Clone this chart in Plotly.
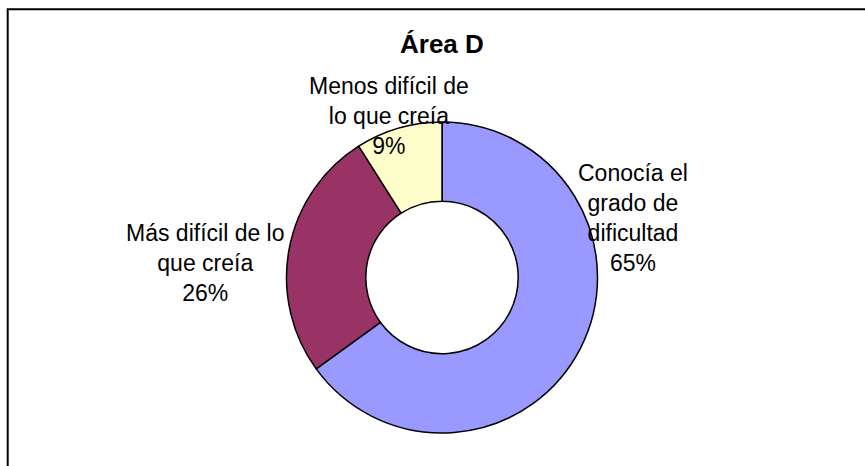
import plotly.graph_objects as go

W, H = 865, 466

title_text = "Área D"
categories = ["Conocía el grado de dificultad", "Más difícil de lo que creía", "Menos difícil de lo que creía"]
label_lines = [["Conocía el", "grado de", "dificultad"], ["Más difícil de lo", "que creía"], ["Menos difícil de", "lo que creía"]]
values = [65, 26, 9]
colors = ["#9999FF", "#993366", "#FFFFCC"]

# label anchor positions in pixels (layout only)
label_pos = [(633, 218), (205, 263), (389, 116)]

cx, cy, r = 442, 277.5, 155.5

fig = go.Figure(go.Pie(
    labels=categories,
    values=values,
    sort=False,
    direction="clockwise",
    rotation=0,
    hole=0.49,
    marker=dict(colors=colors, line=dict(color="black", width=1.5)),
    textinfo="none",
    hoverinfo="label+percent",
    showlegend=False,
    domain=dict(x=[(cx - r) / W, (cx + r) / W], y=[1 - (cy + r) / H, 1 - (cy - r) / H]),
))

total = sum(values)
for lines, v, (px, py) in zip(label_lines, values, label_pos):
    txt = "<br>".join(lines + [f"{round(100 * v / total)}%"])
    fig.add_annotation(
        x=px / W, y=1 - py / H, xref="paper", yref="paper",
        text=txt, showarrow=False, xanchor="center", yanchor="middle",
        align="center", font=dict(family="Liberation Sans, Arial", size=23, color="black"),
    )

fig.add_annotation(
    x=442 / W, y=1 - 44 / H, xref="paper", yref="paper",
    text=f"<b>{title_text}</b>", showarrow=False, xanchor="center", yanchor="middle",
    font=dict(family="Liberation Sans, Arial", size=26, color="black"),
)

# outer frame (extends beyond right and bottom edges)
fig.add_shape(type="rect", xref="paper", yref="paper",
              x0=7.7 / W, x1=1.05, y0=-0.05, y1=1 - 9.3 / H,
              line=dict(color="black", width=2), fillcolor="rgba(0,0,0,0)", layer="above")

fig.update_layout(
    width=W, height=H,
    margin=dict(l=0, r=0, t=0, b=0),
    paper_bgcolor="white", plot_bgcolor="white",
)

fig.write_html("out.html", config={"displayModeBar": False},
               post_script="document.body.style.margin='0';")
